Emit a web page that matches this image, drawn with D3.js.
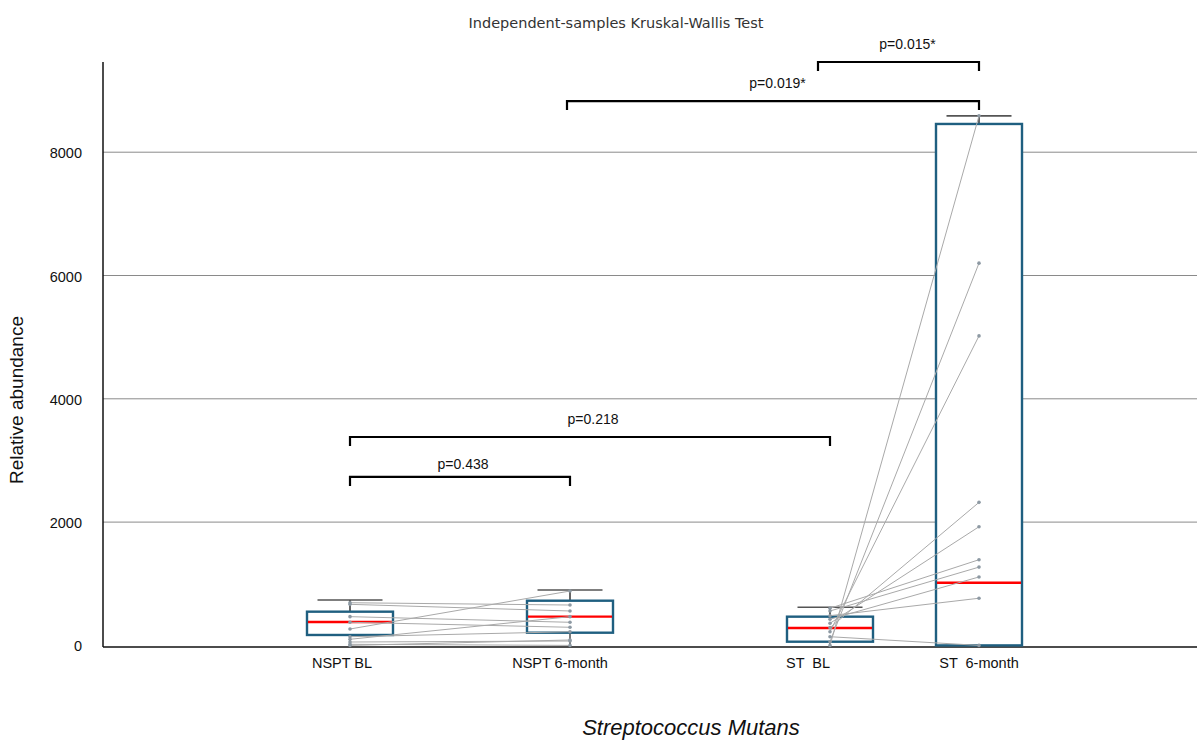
<!DOCTYPE html>
<html>
<head>
<meta charset="utf-8">
<script src="https://cdn.jsdelivr.net/npm/d3@7"></script>
<style>
  body { margin: 0; background: #fff; }
  text { font-family: "Liberation Sans", Arial, sans-serif; }
</style>
</head>
<body>
<div id="chart"></div>
<script>
// categories and box statistics
var categories = ["NSPT BL", "NSPT 6-month", "ST BL", "ST 6-month"];
var tickLabels = ["NSPT BL", "NSPT 6-month", "ST  BL", "ST  6-month"];
var boxMin = [0, 0, 0, 0];
var boxQ1 = [169, 206, 60, 0];
var boxMedian = [379, 466, 282, 1017];
var boxQ3 = [547, 725, 466, 8458];
var boxMax = [736, 899, 618, 8590];

// paired subjects: baseline -> 6 month
var nsptBL = [692, 666, 466, 375, 266, 141, 99, 55, 18, 0];
var nspt6m = [655, 558, 375, 294, 882, 222, 466, 71, 0, 88];
var stBL = [0, 60, 222, 141, 288, 359, 602, 558, 424, 482];
var st6m = [8590, 6200, 5020, 0, 2320, 1925, 1390, 1270, 1110, 765];

var yTicks = [0, 2000, 4000, 6000, 8000];
var gridTicks = [2000, 4000, 6000, 8000];

// significance brackets
var bracketFrom = ["NSPT BL", "NSPT BL", "NSPT 6-month", "ST BL"];
var bracketTo = ["NSPT 6-month", "ST BL", "ST 6-month", "ST 6-month"];
var bracketLevel = [2732, 3380, 8830, 9463];
var bracketText = ["p=0.438", "p=0.218", "p=0.019*", "p=0.015*"];

function draw() {
    var w = 1202;
    var h = 740;

    var svg = d3.select("#chart")
        .append("svg")
        .attr("width", w)
        .attr("height", h);

    var x = d3.scaleOrdinal()
        .domain(categories)
        .range([350, 570, 830, 979]);

    // tick labels sit a little off the box centres in the original
    var xLabel = d3.scaleOrdinal()
        .domain(categories)
        .range([342, 560, 808, 979]);

    var y = d3.scaleLinear()
        .domain([0, 8000])
        .range([645.4, 152.2]);

    var left = 103, right = 1197;
    var boxW = 86, capW = 65;

    // gridlines
    svg.selectAll(".grid")
        .data(gridTicks)
        .enter()
        .append("line")
        .attr("x1", left)
        .attr("x2", right)
        .attr("y1", function(d) { return y(d); })
        .attr("y2", function(d) { return y(d); })
        .attr("stroke", "#8a8a8a")
        .attr("stroke-width", 1);

    // y tick labels
    svg.selectAll(".ytick")
        .data(yTicks)
        .enter()
        .append("text")
        .attr("x", 82)
        .attr("y", function(d) { return y(d) + 6; })
        .attr("text-anchor", "end")
        .attr("font-size", "14.5px")
        .attr("fill", "#111")
        .text(function(d) { return d; });

    // axes lines
    svg.append("line")
        .attr("x1", left).attr("x2", left)
        .attr("y1", 62).attr("y2", y(0) + 1.5)
        .attr("stroke", "#111").attr("stroke-width", 1.5);
    svg.append("line")
        .attr("x1", left).attr("x2", right)
        .attr("y1", y(0) + 1.5).attr("y2", y(0) + 1.5)
        .attr("stroke", "#111").attr("stroke-width", 1.5);

    var boxes = categories.map(function(c, i) {
        return { cat: c, min: boxMin[i], q1: boxQ1[i], med: boxMedian[i], q3: boxQ3[i], max: boxMax[i] };
    });

    // whiskers
    svg.selectAll(".whiskerUp")
        .data(boxes)
        .enter()
        .append("line")
        .attr("x1", function(d) { return x(d.cat); })
        .attr("x2", function(d) { return x(d.cat); })
        .attr("y1", function(d) { return y(d.q3); })
        .attr("y2", function(d) { return y(d.max); })
        .attr("stroke", "#333")
        .attr("stroke-width", 1.5);
    svg.selectAll(".whiskerDown")
        .data(boxes)
        .enter()
        .append("line")
        .attr("x1", function(d) { return x(d.cat); })
        .attr("x2", function(d) { return x(d.cat); })
        .attr("y1", function(d) { return y(d.q1); })
        .attr("y2", function(d) { return y(d.min); })
        .attr("stroke", "#222")
        .attr("stroke-width", 1.2);
    svg.selectAll(".cap")
        .data(boxes)
        .enter()
        .append("line")
        .attr("x1", function(d) { return x(d.cat) - capW / 2; })
        .attr("x2", function(d) { return x(d.cat) + capW / 2; })
        .attr("y1", function(d) { return y(d.max); })
        .attr("y2", function(d) { return y(d.max); })
        .attr("stroke", "#555")
        .attr("stroke-width", 1.6);

    // boxes
    svg.selectAll(".box")
        .data(boxes)
        .enter()
        .append("rect")
        .attr("x", function(d) { return x(d.cat) - boxW / 2; })
        .attr("width", boxW)
        .attr("y", function(d) { return y(d.q3); })
        .attr("height", function(d) { return y(d.q1) - y(d.q3); })
        .attr("fill", "#fff")
        .attr("stroke", "#1f5f80")
        .attr("stroke-width", 2.4);

    // medians
    svg.selectAll(".median")
        .data(boxes)
        .enter()
        .append("line")
        .attr("x1", function(d) { return x(d.cat) - boxW / 2 + 1; })
        .attr("x2", function(d) { return x(d.cat) + boxW / 2 - 1; })
        .attr("y1", function(d) { return y(d.med); })
        .attr("y2", function(d) { return y(d.med); })
        .attr("stroke", "#ff0000")
        .attr("stroke-width", 2.4);

    // paired lines
    var pairs = [];
    nsptBL.forEach(function(v, i) {
        pairs.push({ a: "NSPT BL", va: v, b: "NSPT 6-month", vb: nspt6m[i] });
    });
    stBL.forEach(function(v, i) {
        pairs.push({ a: "ST BL", va: v, b: "ST 6-month", vb: st6m[i] });
    });

    svg.selectAll(".pair")
        .data(pairs)
        .enter()
        .append("line")
        .attr("x1", function(d) { return x(d.a); })
        .attr("x2", function(d) { return x(d.b); })
        .attr("y1", function(d) { return y(d.va); })
        .attr("y2", function(d) { return y(d.vb); })
        .attr("stroke", "#a9a9a9")
        .attr("stroke-width", 1);

    var points = [];
    pairs.forEach(function(p) {
        points.push({ cat: p.a, v: p.va });
        points.push({ cat: p.b, v: p.vb });
    });
    svg.selectAll(".pt")
        .data(points)
        .enter()
        .append("circle")
        .attr("cx", function(d) { return x(d.cat); })
        .attr("cy", function(d) { return y(d.v); })
        .attr("r", 1.8)
        .attr("fill", "#8d99a3");

    // significance brackets
    var brackets = bracketText.map(function(t, i) {
        return { from: bracketFrom[i], to: bracketTo[i], level: bracketLevel[i], text: t };
    });
    svg.selectAll(".bracket")
        .data(brackets)
        .enter()
        .append("path")
        .attr("d", function(d) {
            var x1 = x(d.from), x2 = x(d.to), yy = y(d.level);
            if (d.from == "ST BL") x1 -= 12;
            if (d.from == "NSPT 6-month") x1 -= 3;
            return "M" + x1 + "," + (yy + 9) + "V" + yy + "H" + x2 + "V" + (yy + 9);
        })
        .attr("fill", "none")
        .attr("stroke", "#000")
        .attr("stroke-width", 2.2);
    svg.selectAll(".btext")
        .data(brackets)
        .enter()
        .append("text")
        .attr("x", function(d) { return (x(d.from) + x(d.to)) / 2 + 3; })
        .attr("y", function(d) { return y(d.level) - (d.text == "p=0.438" ? 8 : 13); })
        .attr("text-anchor", "middle")
        .attr("font-size", "14px")
        .attr("fill", "#111")
        .text(function(d) { return d.text; });

    // category labels
    svg.selectAll(".xtick")
        .data(categories)
        .enter()
        .append("text")
        .attr("x", function(d) { return xLabel(d); })
        .attr("y", 668)
        .attr("text-anchor", "middle")
        .attr("font-size", "14.5px")
        .attr("fill", "#111")
        .attr("xml:space", "preserve")
        .style("white-space", "pre")
        .text(function(d, i) { return tickLabels[i]; });

    // titles
    svg.append("text")
        .attr("x", 616)
        .attr("y", 28)
        .attr("text-anchor", "middle")
        .attr("font-size", "14.5px")
        .style("font-family", "'DejaVu Sans', sans-serif")
        .attr("fill", "#333")
        .text("Independent-samples Kruskal-Wallis Test");

    svg.append("text")
        .attr("x", 691)
        .attr("y", 735)
        .attr("text-anchor", "middle")
        .attr("font-size", "22px")
        .attr("font-style", "italic")
        .attr("fill", "#111")
        .text("Streptococcus Mutans");

    svg.append("text")
        .attr("transform", "translate(23,400) rotate(-90)")
        .attr("text-anchor", "middle")
        .attr("font-size", "19px")
        .attr("fill", "#111")
        .text("Relative abundance");
}

window.onload = draw;
</script>
</body>
</html>
